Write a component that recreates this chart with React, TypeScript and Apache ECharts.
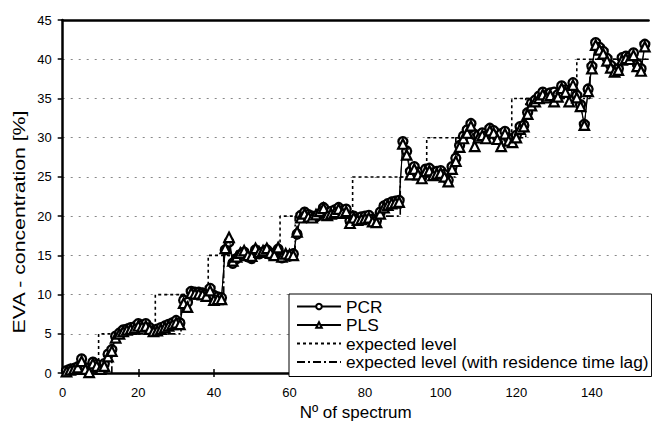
import React, { useEffect, useRef } from "react";
import * as echarts from "echarts";

const pcrValues = [
  0.3, 0.5, 0.6, 0.8, 1.8, 0.7, 0.3, 1.4, 1.1, 0.7,
  1.2, 2.4, 3.0, 4.7, 5.1, 5.5, 5.6, 5.8, 5.9, 6.3,
  6.1, 6.3, 5.8, 5.4, 5.6, 5.8, 6.0, 6.2, 6.4, 6.7,
  6.4, 9.3, 9.0, 10.4, 10.3, 10.3, 10.2, 10.0, 10.8, 9.9,
  9.7, 9.6, 15.7, 16.7, 14.0, 14.6, 15.1, 15.4, 14.8, 14.6,
  15.7, 15.2, 15.4, 15.7, 15.1, 15.3, 15.8, 14.7, 15.0, 14.9,
  15.2, 17.7, 20.1, 20.5, 20.2, 20.0, 19.9, 20.3, 21.1, 20.4,
  20.6, 20.8, 21.1, 20.7, 20.9, 19.4, 20.0, 19.7, 19.9, 20.0,
  20.1, 19.6, 19.4, 20.5, 21.3, 21.6, 21.8, 21.9, 22.0, 29.5,
  28.3, 25.7, 26.3, 25.6, 25.0, 26.0, 26.1, 25.5, 25.7, 25.8,
  25.3, 24.6, 26.3, 27.4, 29.0, 30.2, 31.0, 31.8, 30.4, 30.3,
  30.6, 30.2, 31.2, 30.9, 30.1, 30.5, 30.8, 29.9, 29.8, 30.3,
  31.4, 31.6, 33.2, 34.4, 34.8, 35.3, 35.8, 35.4, 35.7, 35.8,
  35.5, 36.6, 36.1, 35.8, 37.0, 35.4, 34.2, 31.7, 36.2, 39.1,
  42.1, 41.5, 41.0, 40.1, 39.2, 38.6, 38.8, 40.2, 40.4, 40.3,
  40.8, 39.4, 38.8, 41.9,
];

const plsValues = [
  0.2, 0.4, 0.5, 0.7, 1.5, 0.5, 0.1, 1.2, 0.9, 0.5,
  0.9, 2.1, 2.8, 4.5, 5.0, 5.3, 5.5, 5.6, 5.7, 6.0,
  5.9, 6.0, 5.6, 5.3, 5.4, 5.6, 5.8, 6.0, 6.2, 6.4,
  6.2, 8.9, 8.4, 10.2, 10.1, 10.1, 10.0, 9.8, 10.5, 9.3,
  9.4, 9.4, 15.9, 17.3, 14.3, 14.8, 15.3, 15.6, 15.0, 14.9,
  15.9, 15.4, 15.6, 15.9, 15.3, 15.0, 16.0, 14.8, 15.2, 15.1,
  15.0, 18.0, 19.8, 20.3, 19.9, 19.8, 20.2, 20.6, 21.0, 20.1,
  20.3, 20.5, 20.9, 20.4, 20.6, 19.1, 19.8, 19.5, 19.6, 19.7,
  19.8, 19.3, 19.2, 20.3, 21.1, 21.4, 21.6, 21.7, 21.8, 29.2,
  27.8, 25.3, 26.0, 25.3, 24.8, 25.7, 25.8, 25.2, 25.4, 25.5,
  25.0, 24.4, 26.0, 27.0, 28.8, 29.9, 30.6, 31.5, 28.9, 30.0,
  30.3, 29.9, 30.9, 30.6, 29.8, 28.9, 30.5, 29.6, 29.4, 30.0,
  31.1, 31.4, 33.0, 34.1, 34.6, 35.0, 35.5, 35.1, 35.4, 34.6,
  35.2, 36.3, 35.8, 34.6, 36.7, 35.1, 34.0, 31.6, 35.9, 38.8,
  41.8, 41.2, 40.7, 39.8, 38.9, 38.4, 38.6, 39.9, 40.1, 40.0,
  40.5, 39.1, 38.5, 41.6,
];

// step changes of expected level: [spectrum number, level]
const expectedSteps = [
  [0, 0], [9.5, 5], [24.5, 10], [38.5, 15], [57.5, 20],
  [76.7, 25], [96.3, 30], [118.8, 35], [136, 40], [155, 40],
];
const laggedSteps = [
  [0, 0], [13, 5], [31.3, 10], [42.6, 15], [61.5, 20],
  [89.3, 25], [104, 30], [122.5, 35], [139.5, 40], [155, 40],
];

const xTicks = [0, 20, 40, 60, 80, 100, 120, 140];
const yTicks = [0, 5, 10, 15, 20, 25, 30, 35, 40, 45];

const FONT = "'Liberation Sans', Arial, Helvetica, sans-serif";

export default function App() {
  const ref = useRef<HTMLDivElement>(null);
  useEffect(() => {
    if (!ref.current) return;
    const chart = echarts.init(ref.current, null, { renderer: "svg" });
    const pcrData = pcrValues.map((v, i) => [i + 1, v]);
    const plsData = plsValues.map((v, i) => [i + 1, v]);
    const xMax = 155;
    const yMax = yTicks[yTicks.length - 1];
    chart.setOption({
      animation: false,
      backgroundColor: "#fff",
      grid: { left: 62.7, right: 3.4, top: 20, bottom: 47 },
      legend: {
        orient: "vertical",
        left: 289,
        top: 294,
        data: [
          { name: "PCR" },
          { name: "PLS" },
          { name: "expected level", itemStyle: { opacity: 0 } },
          { name: "expected level (with residence time lag)", itemStyle: { opacity: 0 } },
        ],
        itemWidth: 44,
        itemHeight: 7,
        itemGap: 1.5,
        padding: [4, 3, 6, 7],
        borderColor: "#000",
        borderWidth: 1,
        borderRadius: 0,
        backgroundColor: "#fff",
        textStyle: { fontFamily: FONT, fontSize: 17.3, color: "#000", lineHeight: 17 },
      },
      xAxis: [
        {
          type: "value",
          min: 0,
          max: xMax,
          interval: 20,
          name: "N\u00BA of spectrum",
          nameLocation: "middle",
          nameGap: 27,
          nameTextStyle: { fontFamily: FONT, fontSize: 17, color: "#000" },
          axisLine: { show: true, onZero: false, lineStyle: { color: "#000", width: 2.5 } },
          axisTick: { show: true, inside: false, length: 4, lineStyle: { color: "#000", width: 1.5 } },
          axisLabel: {
            fontFamily: FONT,
            fontSize: 13,
            color: "#000",
            margin: 13,
            showMaxLabel: false,
            formatter: (v: number) => (xTicks.includes(v) ? String(v) : ""),
          },
          splitLine: { show: false },
        },
        {
          type: "value",
          min: 0,
          max: xMax,
          interval: 20,
          position: "bottom",
          axisLine: { show: false },
          axisTick: { show: true, inside: true, length: 4, lineStyle: { color: "#000", width: 1.5 } },
          axisLabel: { show: false },
          splitLine: { show: false },
        },
        {
          type: "value",
          min: 0,
          max: xMax,
          position: "top",
          axisLine: { show: true, lineStyle: { color: "#000", width: 2.5 } },
          axisTick: { show: false },
          axisLabel: { show: false },
          splitLine: { show: false },
        },
      ],
      yAxis: {
        type: "value",
        min: 0,
        max: yMax,
        interval: 5,
        axisLine: { show: true, lineStyle: { color: "#000", width: 2.5 } },
        axisTick: { show: true, inside: false, length: 5, lineStyle: { color: "#000", width: 1.5 } },
        axisLabel: {
          fontFamily: FONT,
          fontSize: 13,
          color: "#000",
          margin: 11,
          formatter: (v: number) => (yTicks.includes(v) ? String(v) : ""),
        },
        splitLine: {
          show: true,
          lineStyle: { color: "#888", width: 1.2, type: [2, 6] },
        },
      },
      graphic: [
        {
          type: "text",
          x: 19,
          y: 222,
          rotation: Math.PI / 2,
          scaleX: 1.25,
          scaleY: 1,
          style: {
            text: "EVA - concentration [%]",
            font: `17px ${FONT}`,
            fill: "#000",
            align: "center",
            verticalAlign: "middle",
          },
        },
      ],
      series: [
        {
          name: "expected level",
          type: "line",
          step: "end",
          data: expectedSteps,
          symbol: "none",
          lineStyle: { color: "#000", width: 1.6, type: [3, 3] },
          itemStyle: { color: "#000" },
          z: 2,
        },
        {
          name: "expected level (with residence time lag)",
          type: "line",
          step: "end",
          data: laggedSteps,
          symbol: "none",
          lineStyle: { color: "#000", width: 1.6, type: [8, 3, 2, 3] },
          itemStyle: { color: "#000" },
          z: 2,
        },
        {
          name: "PCR",
          type: "line",
          data: pcrData,
          symbol: "circle",
          symbolSize: 9,
          showAllSymbol: true,
          lineStyle: { color: "#000", width: 1 },
          itemStyle: { color: "#fff", borderColor: "#000", borderWidth: 2.3 },
          z: 3,
        },
        {
          name: "PLS",
          type: "line",
          data: plsData,
          symbol: "triangle",
          symbolSize: 9.5,
          showAllSymbol: true,
          lineStyle: { color: "#000", width: 1 },
          itemStyle: { color: "#fff", borderColor: "#000", borderWidth: 2.2 },
          z: 4,
        },
      ],
    });
    return () => chart.dispose();
  }, []);
  return (
    <div
      ref={ref}
      style={{ position: "absolute", left: 0, top: 0, width: 652, height: 426, background: "#fff" }}
    />
  );
}
